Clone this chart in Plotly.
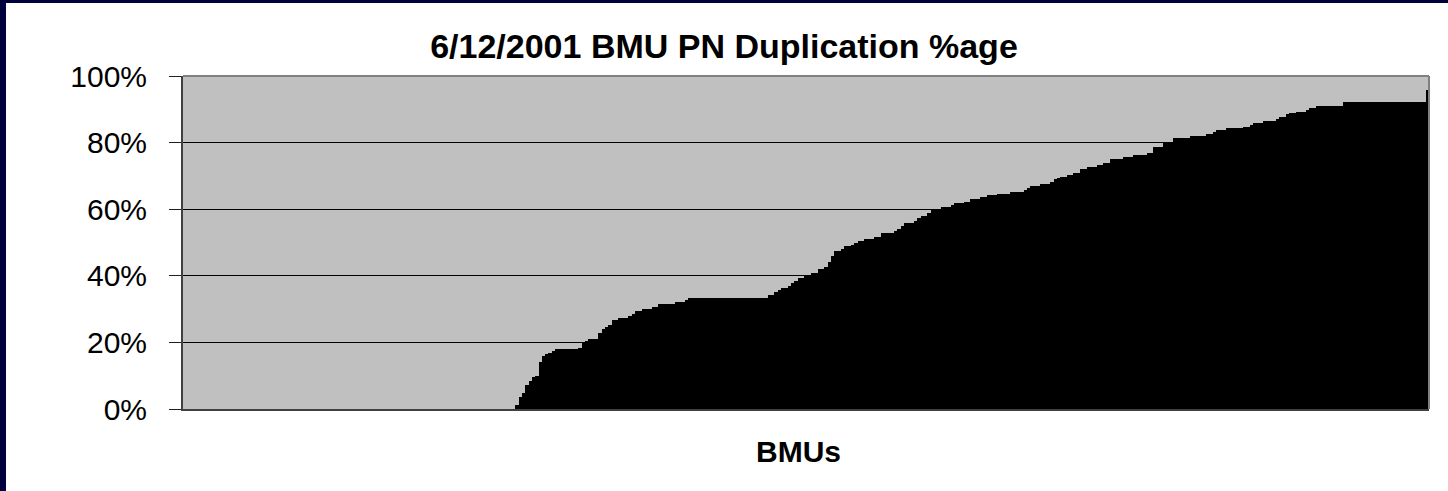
import plotly.graph_objects as go

# Duplication percentage per BMU, sorted ascending, stored as runs (value, number of BMUs)
run_values = [0, 1.2, 3.7, 4.9, 7.2, 8.5, 9.5, 9.9, 14.1, 15.9, 16.4, 16.9, 17.4, 17.9, 18.4,
              19.7, 20.5, 20.9, 22.9, 23.9, 24.7, 25.2, 26.8, 27.2, 27.9, 28.6, 29.3, 30.0,
              30.5, 31.6, 32.2, 32.8, 33.3, 34.3, 35.0, 35.6, 36.3, 36.8, 37.8, 38.5, 39.2,
              40.0, 40.8, 42.0, 42.6, 44.0, 46.0, 47.3, 48.1, 48.9, 49.4, 49.9, 50.5, 51.1,
              51.6, 52.9, 53.4, 54.1, 55.1, 55.8, 56.4, 57.4, 58.1, 58.9, 59.7, 60.6, 61.3,
              61.8, 62.3, 63.0, 63.6, 64.2, 64.7, 65.2, 65.8, 66.5, 67.0, 67.5, 68.1, 69.0,
              69.5, 69.8, 70.3, 70.9, 72.1, 72.6, 73.3, 73.8, 75.0, 75.6, 76.2, 76.8, 78.8,
              80.1, 81.3, 81.9, 82.5, 83.1, 83.8, 84.3, 84.8, 85.3, 85.8, 86.5, 87.1, 87.7,
              88.5, 88.8, 89.2, 89.9, 90.4, 91.1, 92.1, 95.7]
run_counts = [100, 1, 1, 1, 1, 1, 1, 1, 1, 1, 1, 1, 1, 7, 1,
              1, 1, 3, 1, 1, 1, 1, 2, 3, 1, 1, 2, 3,
              2, 5, 3, 1, 24, 2, 1, 1, 2, 1, 1, 1, 2,
              2, 2, 2, 1, 1, 1, 2, 1, 2, 1, 1, 2, 3,
              2, 4, 1, 1, 1, 3, 1, 1, 2, 1, 3, 3, 1,
              3, 2, 3, 2, 3, 4, 4, 1, 1, 3, 3, 1, 1,
              1, 2, 2, 2, 2, 3, 2, 2, 4, 3, 4, 2, 3,
              3, 5, 5, 2, 1, 3, 5, 2, 1, 3, 4, 1, 2,
              1, 2, 3, 1, 2, 8, 25, 1]

y_tick_values = [0, 20, 40, 60, 80, 100]
y_tick_labels = ["0%", "20%", "40%", "60%", "80%", "100%"]

title_text = "6/12/2001 BMU PN Duplication %age"
x_title_text = "BMUs"

values = []
for v, c in zip(run_values, run_counts):
    values.extend([v] * c)
bmu_index = list(range(len(values)))

FONT = "Liberation Sans, Arial, sans-serif"
NAVY = "#00003c"

fig = go.Figure(
    go.Bar(
        x=bmu_index,
        y=values,
        marker=dict(color="#000000", line=dict(width=0)),
        hoverinfo="y",
    )
)

fig.update_layout(
    width=1448,
    height=491,
    margin=dict(l=183, r=19, t=76, b=82),
    paper_bgcolor="#ffffff",
    plot_bgcolor="#c0c0c0",
    bargap=0,
    showlegend=False,
    title=dict(
        text=title_text,
        font=dict(family=FONT, size=34, color="#000000", weight="bold"),
        x=0.5,
        xref="container",
        xanchor="center",
        y=1 - 46 / 491,
        yref="container",
        yanchor="middle",
    ),
    xaxis=dict(
        range=[-0.5, len(values) - 0.5],
        showticklabels=False,
        ticks="",
        showgrid=False,
        zeroline=False,
        showline=True,
        linecolor="#404040",
        linewidth=2,
    ),
    yaxis=dict(
        range=[0, 100],
        tickvals=y_tick_values,
        ticktext=y_tick_labels,
        ticks="outside",
        ticklen=12,
        tickwidth=1,
        tickcolor="#202020",
        ticklabelstandoff=16,
        tickfont=dict(family=FONT, size=30, color="#000000"),
        showgrid=True,
        gridcolor="#000000",
        gridwidth=1,
        zeroline=False,
        showline=True,
        linecolor="#404040",
        linewidth=2,
    ),
    annotations=[
        dict(
            text=x_title_text,
            xref="paper",
            yref="paper",
            x=0.4936,
            y=(409 - 451) / 333,
            xanchor="center",
            yanchor="middle",
            showarrow=False,
            font=dict(family=FONT, size=30, color="#000000", weight="bold"),
        )
    ],
    shapes=[
        # top and right frame of the plot area
        dict(type="line", xref="paper", yref="paper", x0=0, x1=1, y0=1, y1=1,
             line=dict(color="#808080", width=2)),
        dict(type="line", xref="paper", yref="paper", x0=1, x1=1, y0=0, y1=1,
             line=dict(color="#808080", width=2)),
        # navy slide border (left and top)
        dict(type="rect", xref="paper", yref="paper",
             x0=-183 / 1246, x1=(6 - 183) / 1246, y0=(409 - 491) / 333, y1=409 / 333,
             line=dict(width=0), fillcolor=NAVY),
        dict(type="rect", xref="paper", yref="paper",
             x0=-183 / 1246, x1=(1448 - 183) / 1246, y0=(409 - 3) / 333, y1=409 / 333,
             line=dict(width=0), fillcolor=NAVY),
    ],
)

fig.write_html(
    "out.html",
    config={"displayModeBar": False},
    post_script="document.body.style.margin='0';document.body.style.overflow='hidden';",
)
